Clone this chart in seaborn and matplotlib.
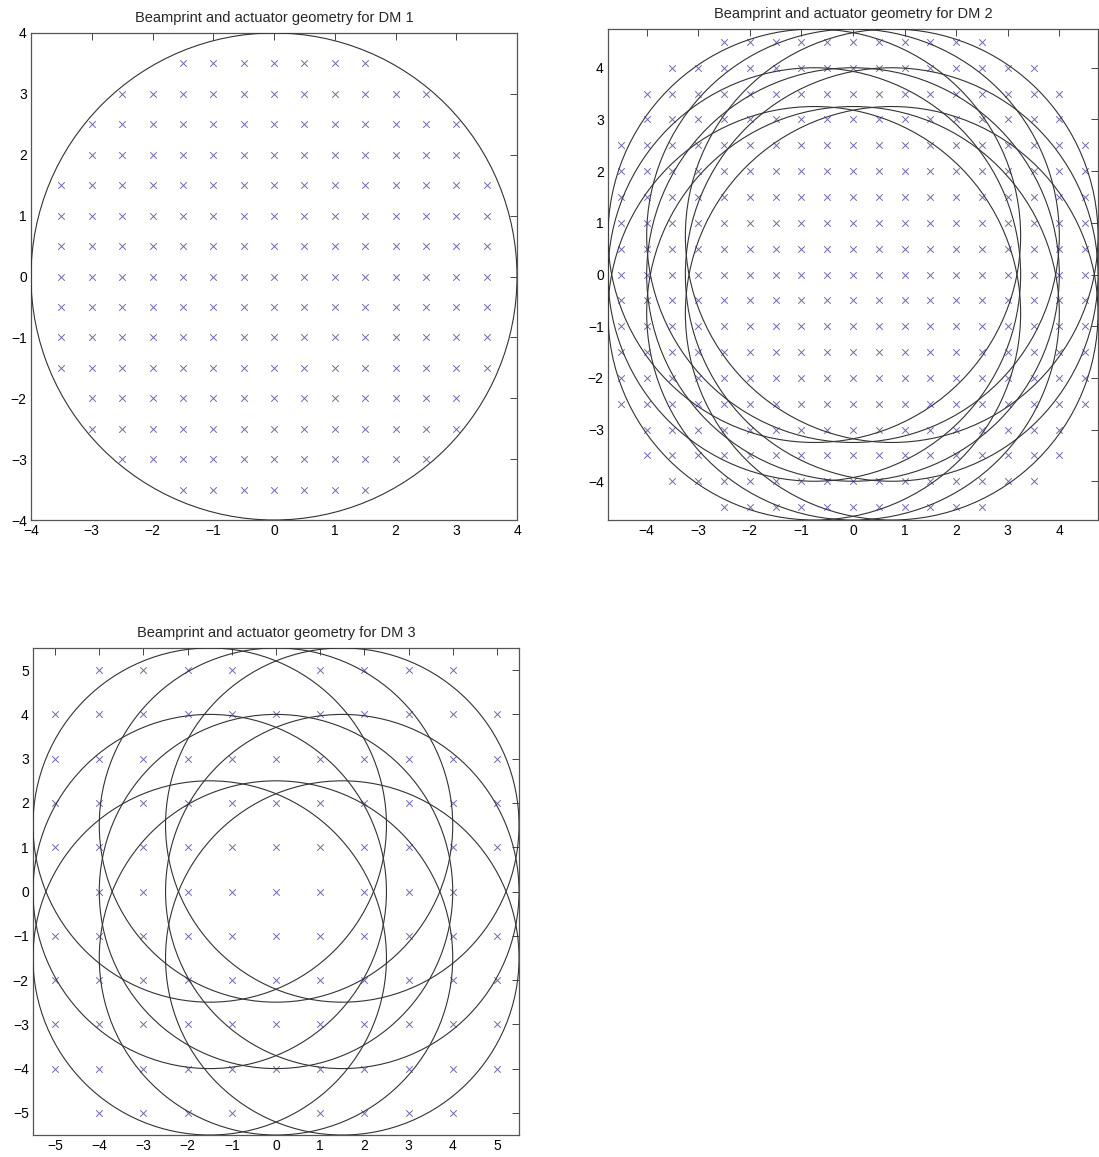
import numpy as np
import pandas as pd
import matplotlib
matplotlib.use("Agg")
import matplotlib.pyplot as plt
from matplotlib.patches import Circle
import seaborn as sns

# ---- actuator layout, one row at a time (row y, x extent on a regular pitch) ----
dm1_pitch = 0.5
dm1_row_y = [3.5, 3, 2.5, 2, 1.5, 1, 0.5, 0, -0.5, -1, -1.5, -2, -2.5, -3, -3.5]
dm1_row_xmax = [1.5, 2.5, 3, 3, 3.5, 3.5, 3.5, 3.5, 3.5, 3.5, 3.5, 3, 3, 2.5, 1.5]

dm2_pitch = 0.5
dm2_row_y = [4.5, 4, 3.5, 3, 2.5, 2, 1.5, 1, 0.5, 0, -0.5, -1, -1.5, -2, -2.5,
             -3, -3.5, -4, -4.5]
dm2_row_xmax = [2.5, 3.5, 4, 4, 4.5, 4.5, 4.5, 4.5, 4.5, 4.5, 4.5, 4.5, 4.5, 4.5,
                4.5, 4, 4, 3.5, 2.5]

# DM 3 has an irregular layout, so its rows are listed in full
dm3_row_y = [5, 4, 3, 2, 1, 0, -1, -2, -3, -4, -5]
dm3_row_x = [
    [-4, -3, -2, -1, 1, 2, 3, 4],
    [-5, -4, -3, -2, -1, 0, 1, 2, 3, 4, 5],
    [-5, -4, -3, -2, -1, 0, 1, 2, 3, 4, 5],
    [-5, -4, -3, -2, -1, 0, 1, 2, 3, 4, 5],
    [-5, -4, -3, -2, -1, 0, 1, 2, 3, 4, 5],
    [-4, -3, -2, -1, 0, 1, 2, 3, 4],
    [-5, -4, -3, -2, -1, 0, 1, 2, 3, 4, 5],
    [-5, -4, -3, -2, -1, 0, 1, 2, 3, 4, 5],
    [-5, -4, -3, -2, -1, 0, 1, 2, 3, 4, 5],
    [-5, -4, -3, -2, -1, 0, 1, 2, 3, 4, 5],
    [-4, -3, -2, -1, 1, 2, 3, 4],
]

# ---- beamprints: circle centres and radius for each DM ----
beam_radius = 4.0
dm1_cx = [0.0]
dm1_cy = [0.0]
dm2_cx = [-0.75, 0.0, 0.75, -0.75, 0.0, 0.75, -0.75, 0.0, 0.75]
dm2_cy = [0.75, 0.75, 0.75, 0.0, 0.0, 0.0, -0.75, -0.75, -0.75]
dm3_cx = [-1.5, 0.0, 1.5, -1.5, 0.0, 1.5, -1.5, 0.0, 1.5]
dm3_cy = [1.5, 1.5, 1.5, 0.0, 0.0, 0.0, -1.5, -1.5, -1.5]

dm_limits = [4.0, 4.75, 5.5]
dm_ticks = [list(range(-4, 5)), list(range(-4, 5)), list(range(-5, 6))]
titles = ["Beamprint and actuator geometry for DM 1",
          "Beamprint and actuator geometry for DM 2",
          "Beamprint and actuator geometry for DM 3"]


def rows_from_extent(row_y, row_xmax, pitch):
    xs, ys = [], []
    for y, xm in zip(row_y, row_xmax):
        n = int(round(2 * xm / pitch)) + 1
        for k in range(n):
            xs.append(-xm + k * pitch)
            ys.append(y)
    return pd.DataFrame({"x": xs, "y": ys})


def rows_from_lists(row_y, row_x):
    xs, ys = [], []
    for y, row in zip(row_y, row_x):
        for x in row:
            xs.append(x)
            ys.append(y)
    return pd.DataFrame({"x": xs, "y": ys})


actuators = [
    rows_from_extent(dm1_row_y, dm1_row_xmax, dm1_pitch),
    rows_from_extent(dm2_row_y, dm2_row_xmax, dm2_pitch),
    rows_from_lists(dm3_row_y, dm3_row_x),
]
centres = [(dm1_cx, dm1_cy), (dm2_cx, dm2_cy), (dm3_cx, dm3_cy)]

sns.set_style("white")
plt.rcParams["font.family"] = ["Liberation Sans", "DejaVu Sans"]

W, H = 1099, 1157
fig = plt.figure(figsize=(W / 100, H / 100), dpi=100)
fig.patch.set_facecolor("white")

# axes boxes in pixels: left, top, right, bottom
boxes = [(31, 33, 517, 520), (608, 29, 1098, 520), (33, 648, 519, 1135)]

for i, (l, t, r, b) in enumerate(boxes):
    ax = fig.add_axes([l / W, 1 - b / H, (r - l) / W, (b - t) / H])
    lim = dm_limits[i]
    df = actuators[i]
    sns.scatterplot(data=df, x="x", y="y", marker="x", s=22, color="#6a6ab0",
                    linewidth=0.7, ax=ax, zorder=2, legend=False)
    cx, cy = centres[i]
    for x0, y0 in zip(cx, cy):
        ax.add_patch(Circle((x0, y0), beam_radius, fill=False,
                            edgecolor="#333333", linewidth=0.8, zorder=3))
    ax.set_xlim(-lim, lim)
    ax.set_ylim(-lim, lim)
    ax.set_xticks(dm_ticks[i])
    ax.set_yticks(dm_ticks[i])
    ax.set_xlabel("")
    ax.set_ylabel("")
    ax.tick_params(direction="in", top=True, right=True, length=5, width=0.7,
                   color="#444444", labelsize=10, pad=3, labelcolor="black")
    for sp in ax.spines.values():
        sp.set_visible(True)
        sp.set_color("#555555")
        sp.set_linewidth(0.9)
    ax.set_title(titles[i], fontsize=10.5, pad=8)

fig.savefig("out.png", dpi=100, facecolor="white")
